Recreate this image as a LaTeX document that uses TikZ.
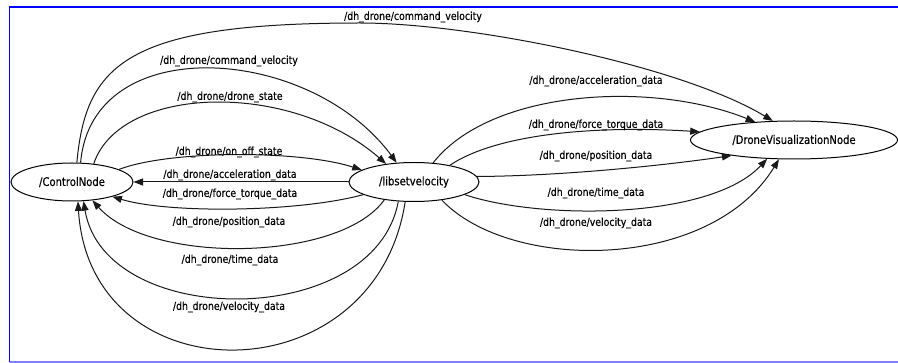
\documentclass[tikz,border=0pt]{standalone}
\usepackage{fontspec}
\setmainfont{DejaVu Sans}[FakeStretch=0.85,FakeBold=0.35]
\usetikzlibrary{arrows.meta,shapes.geometric}
\begin{document}
\begin{tikzpicture}[x=1pt,y=-1pt,
  rosnode/.style={draw=black, ellipse, line width=1pt, inner sep=0pt,
    font=\fontsize{11.8}{14}\selectfont, text=black},
  topic/.style={draw=black!90, line width=1pt,
    -{Triangle[length=9.5pt,width=7pt]}},
  topiclabel/.style={inner sep=0pt, font=\fontsize{11}{13}\selectfont, text=black},
  frameline/.style={draw=blue, line width=1.8pt},
]
\useasboundingbox (0,0) rectangle (898,363);
\fill[white] (0,0) rectangle (898,363);

% frame
\draw[frameline] (898,7) -- (9.5,7) -- (9.5,362);
\draw[frameline, draw=blue!50, line width=1.5pt] (9.5,362) -- (898,362);

% nodes
\node[rosnode, minimum width=122pt, minimum height=38pt] (ctrl) at (72,182) {/ControlNode};
\node[rosnode, minimum width=130pt, minimum height=39pt] (lib) at (414,182) {/libsetvelocity};
\node[rosnode, minimum width=207pt, minimum height=38pt] (dviz) at (794,140) {/DroneVisualizationNode};

% ControlNode -> DroneVisualizationNode
\draw[topic] (ctrl.76) .. controls (86,65) and (125,23) .. (360,23)
  .. controls (470,23) and (680,65) .. (dviz.138);

% ControlNode -> libsetvelocity
\draw[topic] (ctrl.66) .. controls (92,30) and (310,45) .. (lib.132);
\draw[topic] (ctrl.40) .. controls (120,85) and (290,80) .. (lib.147);
\draw[topic] (ctrl.15) .. controls (170,150) and (300,150) .. (lib.167);

% libsetvelocity -> ControlNode
\draw[topic] (lib.west) -- (ctrl.east);
\draw[topic] (lib.194) .. controls (300,212) and (170,214) .. (ctrl.340);
\draw[topic] (lib.211) .. controls (340,262) and (150,265) .. (ctrl.318);
\draw[topic] (lib.231) .. controls (375,330) and (105,330) .. (ctrl.301);
\draw[topic] (lib.246) .. controls (375,398) and (90,398) .. (ctrl.287);

% libsetvelocity -> DroneVisualizationNode
\draw[topic] (lib.45) .. controls (490,90) and (650,80) .. (dviz.155);
\draw[topic] (lib.25) .. controls (495,135) and (590,125) .. (dviz.175);
\draw[topic] (lib.5) .. controls (560,176) and (660,166) .. (dviz.194);
\draw[topic] (lib.346) .. controls (540,220) and (710,220) .. (dviz.215);
\draw[topic] (lib.327) .. controls (510,272) and (710,272) .. (dviz.232);

% topic labels
\node[topiclabel] (t1) at (413,17) {/dh\_drone/command\_velocity};
\node[topiclabel] (t2) at (229,61) {/dh\_drone/command\_velocity};
\node[topiclabel] (t3) at (230,97) {/dh\_drone/drone\_state};
\node[topiclabel] (t4) at (229,152) {/dh\_drone/on\_off\_state};
\node[topiclabel] (t5) at (230,175) {/dh\_drone/acceleration\_data};
\node[topiclabel] (t6) at (230,194) {/dh\_drone/force\_torque\_data};
\node[topiclabel] (t7) at (229,222) {/dh\_drone/position\_data};
\node[topiclabel] (t8) at (230,260) {/dh\_drone/time\_data};
\node[topiclabel] (t9) at (229,307) {/dh\_drone/velocity\_data};
\node[topiclabel] (t10) at (596,81) {/dh\_drone/acceleration\_data};
\node[topiclabel] (t11) at (596,125) {/dh\_drone/force\_torque\_data};
\node[topiclabel] (t12) at (596,156) {/dh\_drone/position\_data};
\node[topiclabel] (t13) at (596,193) {/dh\_drone/time\_data};
\node[topiclabel] (t14) at (596,223) {/dh\_drone/velocity\_data};
\end{tikzpicture}
\end{document}
